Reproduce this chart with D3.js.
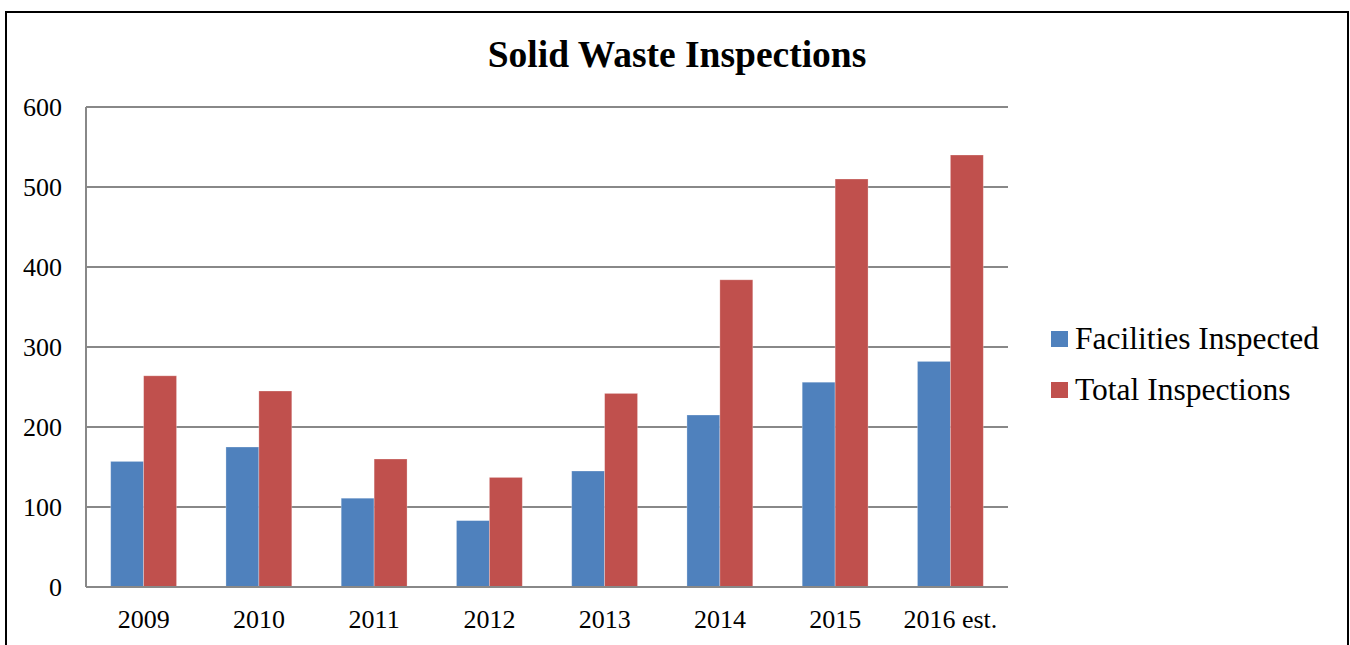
<!DOCTYPE html>
<html>
<head>
<meta charset="utf-8">
<script src="https://cdn.jsdelivr.net/npm/d3@7"></script>
<style>
  body { margin: 0; background: #fff; }
  text { font-family: "Liberation Serif", "Times New Roman", serif; fill: #000; }
</style>
</head>
<body>
<div id="chart"></div>
<script>
// chart data
const years = ["2009", "2010", "2011", "2012", "2013", "2014", "2015", "2016 est."];
const seriesNames = ["Facilities Inspected", "Total Inspections"];
const facilitiesInspected = [157, 175, 111, 83, 145, 215, 256, 282];
const totalInspections = [264, 245, 160, 137, 242, 384, 510, 540];
const yTicks = [0, 100, 200, 300, 400, 500, 600];

const colors = { "Facilities Inspected": "#4F81BD", "Total Inspections": "#C0504D" };
const gridColor = "#888888";

const svgAttr = { width: 1350, height: 645 };
const plot = { left: 86, right: 1008, top: 107, bottom: 587 };

const svg = d3.select("#chart")
              .append("svg")
              .attr("width", svgAttr.width)
              .attr("height", svgAttr.height);

// outer frame (bottom edge runs off the picture)
svg.append("rect")
   .attr("x", 6)
   .attr("y", 12)
   .attr("width", 1342)
   .attr("height", 700)
   .attr("fill", "none")
   .attr("stroke", "#000")
   .attr("stroke-width", 2);

// title
svg.append("text")
   .attr("x", 677)
   .attr("y", 67)
   .attr("text-anchor", "middle")
   .style("font-size", "37.5px")
   .style("font-weight", "bold")
   .text("Solid Waste Inspections");

const x0 = d3.scaleBand()
             .domain(years)
             .range([plot.left, plot.right]);

const x1 = d3.scaleBand()
             .domain(seriesNames)
             .range([0, x0.bandwidth()])
             .paddingOuter(0.75);

const y = d3.scaleLinear()
            .domain([0, 600])
            .range([plot.bottom, plot.top]);

// gridlines
svg.append("g")
   .selectAll("line")
   .data(yTicks)
   .join("line")
   .attr("x1", plot.left)
   .attr("x2", plot.right)
   .attr("y1", d => y(d))
   .attr("y2", d => y(d))
   .attr("stroke", gridColor)
   .attr("stroke-width", 2);

// y axis line
svg.append("line")
   .attr("x1", plot.left)
   .attr("x2", plot.left)
   .attr("y1", y(600))
   .attr("y2", y(0))
   .attr("stroke", gridColor)
   .attr("stroke-width", 2);

// y tick labels
svg.append("g")
   .selectAll("text")
   .data(yTicks)
   .join("text")
   .attr("x", 62)
   .attr("y", d => y(d))
   .attr("dy", "0.35em")
   .attr("text-anchor", "end")
   .style("font-size", "26px")
   .text(d => d);

// bars
const rows = years.map((yr, i) => ({
    year: yr,
    values: [
        { name: seriesNames[0], value: facilitiesInspected[i] },
        { name: seriesNames[1], value: totalInspections[i] }
    ]
}));

svg.append("g")
   .selectAll("g")
   .data(rows)
   .join("g")
   .attr("transform", d => "translate(" + x0(d.year) + ",0)")
   .selectAll("rect")
   .data(d => d.values)
   .join("rect")
   .attr("x", d => x1(d.name))
   .attr("width", x1.bandwidth())
   .attr("y", d => y(d.value))
   .attr("height", d => y(0) - y(d.value))
   .attr("fill", d => colors[d.name])
   .attr("stroke", "#fff")
   .attr("stroke-opacity", 0.35)
   .attr("stroke-width", 0.8);

// redraw the base line over the bars
svg.append("line")
   .attr("x1", plot.left)
   .attr("x2", plot.right)
   .attr("y1", y(0))
   .attr("y2", y(0))
   .attr("stroke", gridColor)
   .attr("stroke-width", 2);

// x labels
svg.append("g")
   .selectAll("text")
   .data(years)
   .join("text")
   .attr("x", d => x0(d) + x0.bandwidth() / 2)
   .attr("y", 628)
   .attr("text-anchor", "middle")
   .style("font-size", "26px")
   .text(d => d);

// legend
const legend = svg.append("g")
                  .selectAll("g")
                  .data(seriesNames)
                  .join("g")
                  .attr("transform", (d, i) => "translate(1051," + (331 + i * 51) + ")");

legend.append("rect")
      .attr("width", 17)
      .attr("height", 16)
      .attr("fill", d => colors[d]);

legend.append("text")
      .attr("x", 24)
      .attr("y", 18)
      .style("font-size", "31.5px")
      .text(d => d);
</script>
</body>
</html>
